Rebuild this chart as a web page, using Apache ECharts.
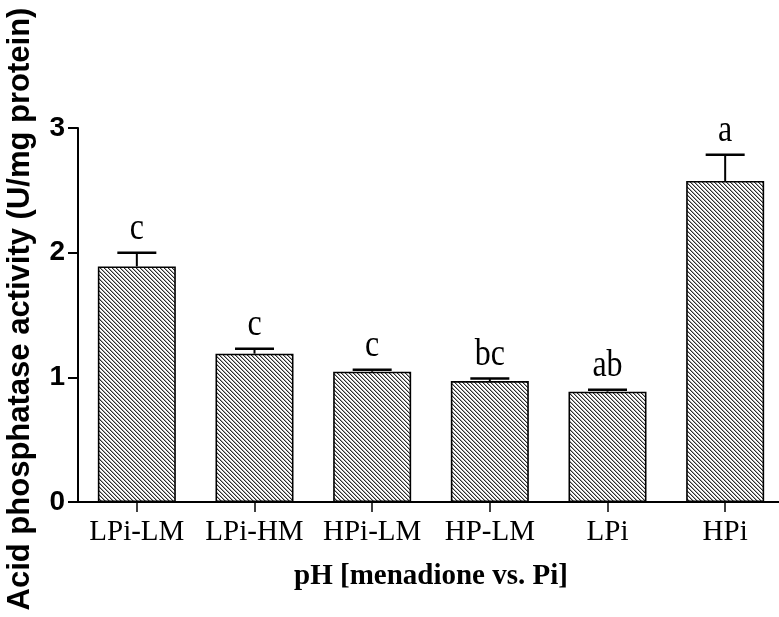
<!DOCTYPE html>
<html>
<head>
<meta charset="utf-8">
<script src="https://cdn.jsdelivr.net/npm/echarts@6/dist/echarts.min.js"></script>
<style>
  html, body { margin: 0; padding: 0; background: #fff; }
  #chart { width: 779px; height: 617px; }
</style>
</head>
<body>
<div id="chart"></div>
<script>
// Acid phosphatase activity per treatment (mean with SEM above)
const categories = ['LPi-LM', 'LPi-HM', 'HPi-LM', 'HP-LM', 'LPi', 'HPi'];
const meanActivity = [1.89, 1.19, 1.045, 0.97, 0.885, 2.575];
const semActivity = [0.11, 0.04, 0.015, 0.02, 0.015, 0.21];
const groupLetters = ['c', 'c', 'c', 'bc', 'ab', 'a'];
const yTicks = [0, 1, 2, 3];

const serif = '"Liberation Serif", "Times New Roman", Times, serif';
const sans = '"Liberation Sans", Arial, Helvetica, sans-serif';

// Small tile of "\" diagonal hatching used to fill the bars
function makeHatch() {
  const c = document.createElement('canvas');
  c.width = 4; c.height = 4;
  const ctx = c.getContext('2d');
  ctx.fillStyle = '#ffffff';
  ctx.fillRect(0, 0, 4, 4);
  for (let y = 0; y < 4; y++) {
    for (let x = 0; x < 4; x++) {
      const k = ((x - y) % 4 + 4) % 4;
      if (k === 0) { ctx.fillStyle = '#2e2e2e'; ctx.fillRect(x, y, 1, 1); }
      else if (k === 1) { ctx.fillStyle = '#a8a8a8'; ctx.fillRect(x, y, 1, 1); }
    }
  }
  return c;
}

const chart = echarts.init(document.getElementById('chart'), null, { renderer: 'canvas' });

chart.setOption({
  animation: false,
  backgroundColor: '#ffffff',
  grid: { left: 78, top: 128, bottom: 115, width: 706, containLabel: false, outerBoundsMode: 'none' },
  xAxis: {
    type: 'category',
    data: categories,
    name: 'pH [menadione vs. Pi]',
    nameLocation: 'middle',
    nameGap: 60,
    nameTextStyle: { fontFamily: serif, fontWeight: 'bold', fontSize: 29, color: '#000' },
    axisLine: { show: true, lineStyle: { color: '#000', width: 2 } },
    axisTick: { show: true, alignWithLabel: true, length: 10, lineStyle: { color: '#000', width: 1.5 } },
    axisLabel: { fontFamily: serif, fontSize: 29, color: '#000', margin: 16, interval: 0 },
    splitLine: { show: false }
  },
  yAxis: {
    type: 'value',
    min: yTicks[0],
    max: yTicks[yTicks.length - 1],
    interval: yTicks[1] - yTicks[0],
    name: 'Acid phosphatase activity (U/mg protein)',
    nameLocation: 'middle',
    nameRotate: 90,
    nameGap: 42,
    nameTextStyle: { fontFamily: sans, fontWeight: 'bold', fontSize: 31, color: '#000', padding: [0, 0, 0, 12] },
    axisLine: { show: true, lineStyle: { color: '#000', width: 2 } },
    axisTick: { show: true, length: 10, lineStyle: { color: '#000', width: 2 } },
    axisLabel: { fontFamily: sans, fontWeight: 'bold', fontSize: 28, color: '#000', margin: 13 },
    splitLine: { show: false }
  },
  series: [
    {
      type: 'bar',
      data: meanActivity,
      barWidth: 78,
      itemStyle: {
        color: { image: makeHatch(), repeat: 'repeat' },
        borderColor: '#000',
        borderWidth: 1.6
      },
      z: 2
    },
    {
      type: 'custom',
      data: meanActivity.map((m, i) => [i, m, m + semActivity[i]]),
      renderItem: function (params, api) {
        const i = api.value(0);
        const base = api.coord([i, api.value(1)]);
        const top = api.coord([i, api.value(2)]);
        const half = 19.5;
        return {
          type: 'group',
          children: [
            { type: 'line', shape: { x1: base[0], y1: base[1], x2: top[0], y2: top[1] },
              style: { stroke: '#000', lineWidth: 2 } },
            { type: 'line', shape: { x1: top[0] - half, y1: top[1], x2: top[0] + half, y2: top[1] },
              style: { stroke: '#000', lineWidth: 2.5 } },
            // significance letter, drawn slightly tall like the figure's serif type
            { type: 'text', x: top[0], y: top[1] - 5, scaleY: 1.18,
              style: { text: groupLetters[params.dataIndex], font: '32px ' + serif,
                       align: 'center', verticalAlign: 'bottom', fill: '#000' } }
          ]
        };
      },
      z: 3
    }
  ]
});
</script>
</body>
</html>
